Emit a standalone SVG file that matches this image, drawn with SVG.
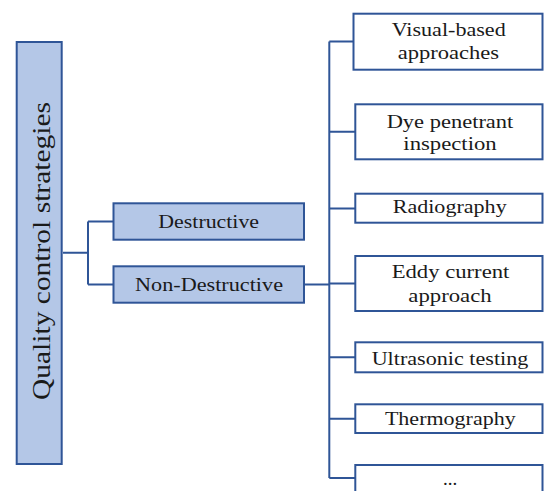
<svg xmlns="http://www.w3.org/2000/svg" width="544" height="491" viewBox="0 0 544 491">
<style>
.fill{fill:#B4C7E7;stroke:#2F5597;stroke-width:2}
.box{fill:#FFFFFF;stroke:#2F5597;stroke-width:2}
.ln{fill:none;stroke:#2F5597;stroke-width:2}
text{font-family:"Liberation Serif","Times New Roman",serif;font-size:19px;fill:#1A1A1A;text-anchor:middle}
text.big{font-size:26px}
</style>
<rect width="544" height="491" fill="#FFFFFF"/>
<g id="connectors">
<path class="ln" d="M63 252.7H88M88 221.5V284.5M88 221.5H113.5M88 284.5H113.5"/>
<path class="ln" d="M304.5 284.5H329.3"/>
<path class="ln" d="M329.3 41.5V478M329.3 41.5H353.5M329.3 131.7H355M329.3 208.5H355M329.3 283.5H355M329.3 357.3H355M329.3 418.8H355M329.3 478H355"/>
</g>
<g id="quality">
<rect class="fill" x="16.7" y="42" width="45" height="422"/>
<text class="big" transform="translate(50,251) rotate(-90)" textLength="298" lengthAdjust="spacingAndGlyphs">Quality control strategies</text>
</g>
<g id="destructive">
<rect class="fill" x="113.5" y="203.3" width="190.5" height="36.4"/>
<text x="208.7" y="227.7" textLength="100.7" lengthAdjust="spacingAndGlyphs">Destructive</text>
</g>
<g id="nondestructive">
<rect class="fill" x="113.5" y="266.3" width="190.5" height="36.4"/>
<text x="209" y="290.7" textLength="148" lengthAdjust="spacingAndGlyphs">Non-Destructive</text>
</g>
<g id="visual">
<rect class="box" x="353.5" y="13.7" width="189" height="56"/>
<text x="448.7" y="35.5" textLength="114" lengthAdjust="spacingAndGlyphs">Visual-based</text>
<text x="448.4" y="58.5" textLength="101.3" lengthAdjust="spacingAndGlyphs">approaches</text>
</g>
<g id="dye">
<rect class="box" x="355.3" y="104.3" width="187.2" height="55"/>
<text x="450" y="127.5" textLength="126.7" lengthAdjust="spacingAndGlyphs">Dye penetrant</text>
<text x="450" y="150" textLength="93.3" lengthAdjust="spacingAndGlyphs">inspection</text>
</g>
<g id="radiography">
<rect class="box" x="355.3" y="193.7" width="187.2" height="29"/>
<text x="449.7" y="213.3" textLength="114" lengthAdjust="spacingAndGlyphs">Radiography</text>
</g>
<g id="eddy">
<rect class="box" x="355.3" y="256" width="187.2" height="55"/>
<text x="450.5" y="278" textLength="117.7" lengthAdjust="spacingAndGlyphs">Eddy current</text>
<text x="450" y="301.7" textLength="83.3" lengthAdjust="spacingAndGlyphs">approach</text>
</g>
<g id="ultrasonic">
<rect class="box" x="355.3" y="342.3" width="187.2" height="30"/>
<text x="450" y="364.5" textLength="156.7" lengthAdjust="spacingAndGlyphs">Ultrasonic testing</text>
</g>
<g id="thermography">
<rect class="box" x="355.3" y="404.3" width="187.2" height="28.7"/>
<text x="450.3" y="425" textLength="130.7" lengthAdjust="spacingAndGlyphs">Thermography</text>
</g>
<g id="more">
<rect class="box" x="355.3" y="465" width="187.2" height="40"/>
<text x="450" y="484.5">...</text>
</g>
</svg>
